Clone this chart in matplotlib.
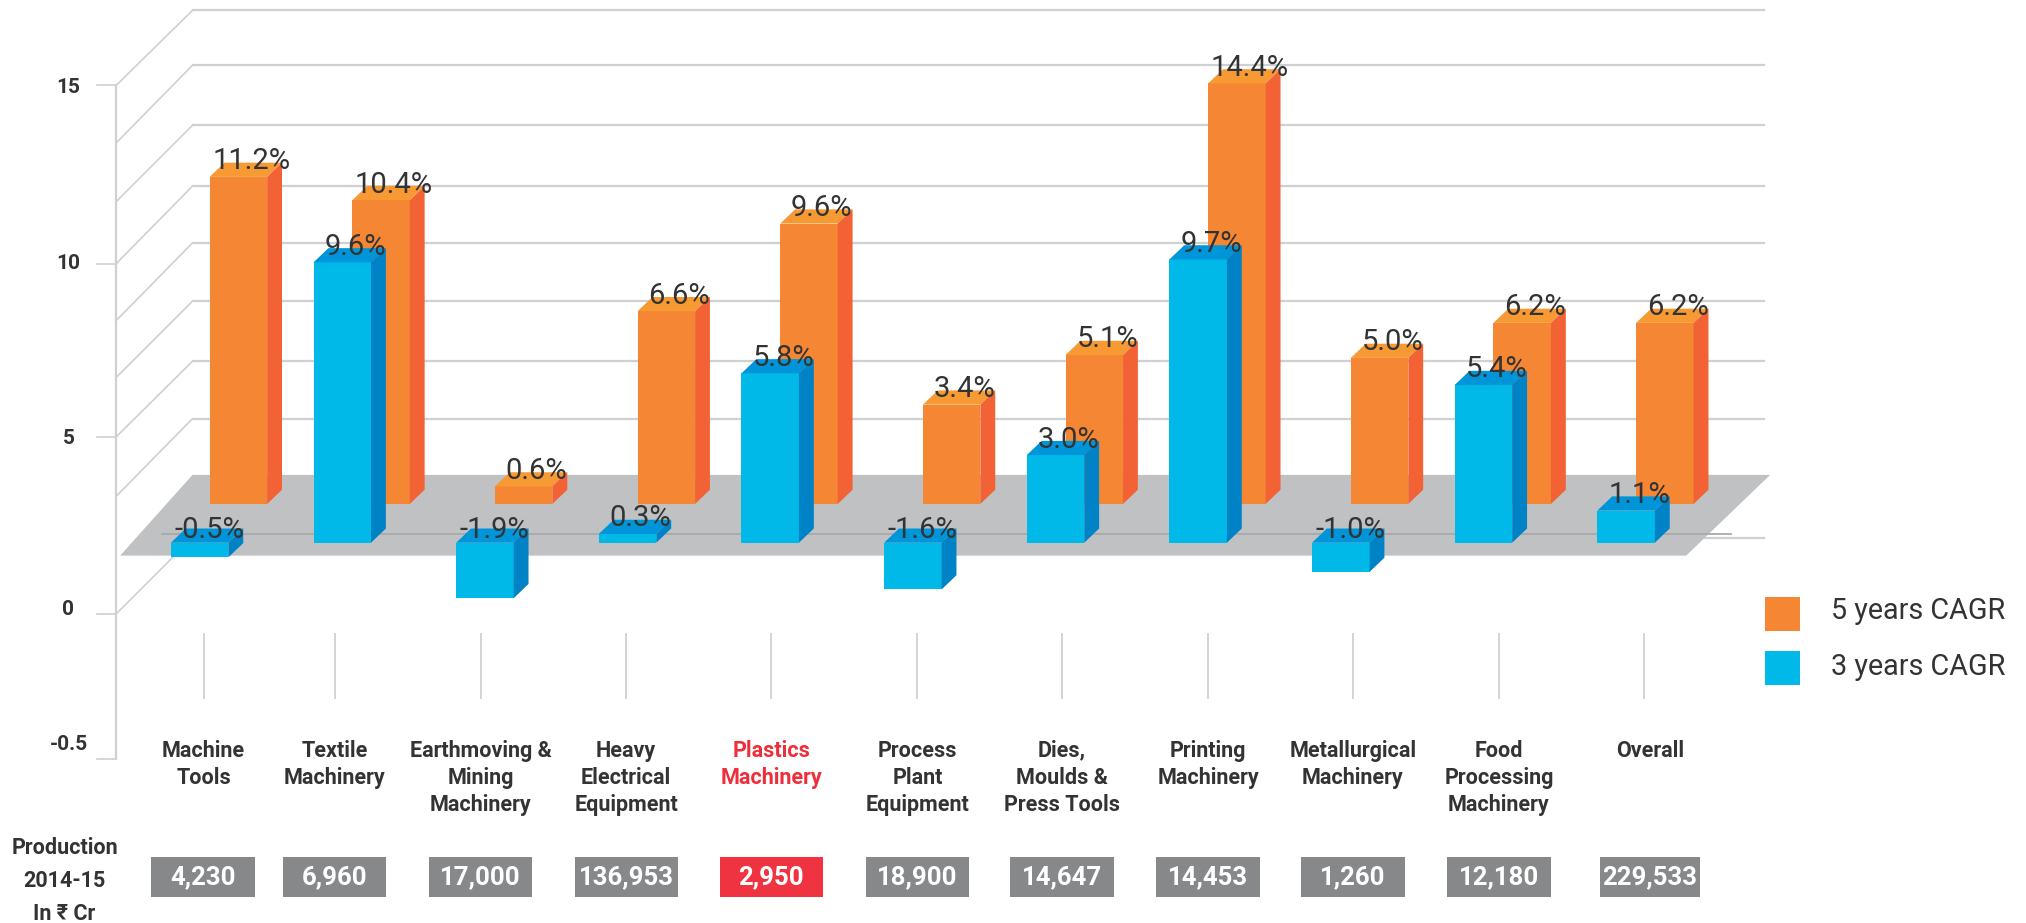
import matplotlib
matplotlib.use('Agg')
import matplotlib.pyplot as plt
from matplotlib.patches import Polygon, Rectangle

# Data
categories = ['Machine\nTools', 'Textile\nMachinery', 'Earthmoving &\nMining\nMachinery',
              'Heavy\nElectrical\nEquipment', 'Plastics\nMachinery', 'Process\nPlant\nEquipment',
              'Dies,\nMoulds &\nPress Tools', 'Printing\nMachinery', 'Metallurgical\nMachinery',
              'Food\nProcessing\nMachinery', 'Overall']
cagr_5y = [11.2, 10.4, 0.6, 6.6, 9.6, 3.4, 5.1, 14.4, 5.0, 6.2, 6.2]
cagr_3y = [-0.5, 9.6, -1.9, 0.3, 5.8, -1.6, 3.0, 9.7, -1.0, 5.4, 1.1]
production = ['4,230', '6,960', '17,000', '136,953', '2,950', '18,900',
              '14,647', '14,453', '1,260', '12,180', '229,533']
y_tick_labels = ['15', '10', '5', '0', '-0.5']
legend_labels = ['5 years CAGR', '3 years CAGR']
highlight = 'Plastics\nMachinery'

# Colours: front, top, side
ORANGE = ('#F58634', '#F89A34', '#F26235')
BLUE = ('#00B9E9', '#0095D9', '#0082C6')
FLOOR = '#C0C1C3'
GRID = '#CFD0D2'
TEXT = '#333333'
RED = '#EE2E3A'
BOX = '#87888A'

plt.rcParams['font.family'] = ['Roboto', 'DejaVu Sans']

# Layout, in reference units (the picture at 1568 wide)
W, H = 1568.0, 714.3
STEP = 110.4
FIRST = 169.5
UNIT = 22.6
BLUE_BASE = 420.0
ORANGE_LIFT = 30.0 / UNIT
BAR_W = 44.5 / STEP
BAR_OFF = 15.0 / STEP
DX, DY = 11.5 / STEP, 11.0 / UNIT

fig = plt.figure(figsize=(20.26, 9.23), dpi=100)

# background axes for the walls, floor and all outer text
bg = fig.add_axes([0, 0, 1, 1], zorder=1)
bg.set_xlim(0, W)
bg.set_ylim(H, 0)
bg.axis('off')

# bars live on their own value axes
ax = fig.add_axes([0, 0, 1, 1], zorder=2)
ax.patch.set_alpha(0)
ax.axis('off')
ax.set_xlim(-FIRST / STEP, (W - FIRST) / STEP)
ax.set_ylim((BLUE_BASE - H) / UNIT, BLUE_BASE / UNIT)

front_y = [66, 110.5, 156, 204, 248, 292, 338, 384, 475]
rear_y = [8, 50.5, 97, 144, 188, 233, 279.5, 324, 416]
for fy, ry in zip(front_y, rear_y):
    bg.plot([90, 149], [fy, ry], color=GRID, lw=1.2, zorder=1)
    bg.plot([149, 1365], [ry, ry], color=GRID, lw=1.6, zorder=1)
bg.plot([90, 90], [66, 587], color=GRID, lw=1.6, zorder=1)
for y in [66, 204, 338, 475, 587]:
    bg.plot([75, 90], [y, y], color=GRID, lw=1.2, zorder=1)

bg.add_patch(Polygon([(149, 367.5), (1370, 367.5), (1305, 430), (93, 430)],
                     facecolor=FLOOR, edgecolor='none', zorder=2))
bg.plot([125, 1340], [413, 413], color='#A8A9AB', lw=1.3, zorder=3)

for label, y in zip(y_tick_labels, [68, 204, 339, 472, 576]):
    bg.text(53, y, label, ha='center', va='center', fontsize=15, fontweight='bold', color=TEXT)


def draw_bar(x, value, base, colors):
    left, right = x - BAR_W / 2, x + BAR_W / 2
    top = base + max(value, 0)
    bottom = base + min(value, 0)
    ax.bar(x, top - bottom, BAR_W, bottom=bottom, color=colors[0], zorder=3)
    ax.add_patch(Polygon([(left, top), (right, top), (right + DX, top + DY), (left + DX, top + DY)],
                         facecolor=colors[1], edgecolor='none', zorder=3))
    ax.add_patch(Polygon([(right, bottom), (right + DX, bottom + DY), (right + DX, top + DY), (right, top)],
                         facecolor=colors[2], edgecolor='none', zorder=3))
    # negative labels sit a bit lower and further left
    offset = (6.8, 9.4) if value < 0 else (9.3, 11.2)
    ax.annotate(f'{value:.1f}%', (x, top), xytext=offset, textcoords='offset points',
                ha='center', va='center', fontsize=21, color=TEXT, zorder=5)


for i, v in enumerate(cagr_5y):
    draw_bar(i + BAR_OFF, v, ORANGE_LIFT, ORANGE)
for i, v in enumerate(cagr_3y):
    draw_bar(i - BAR_OFF, v, 0, BLUE)

# category ticks, labels and production boxes
tick_x = [157.5, 259, 372, 484.5, 597, 710, 822, 935, 1047, 1160, 1272]
box_x = [157, 259, 372, 485, 597, 710, 822, 935, 1047, 1160, 1277]
for i, cat in enumerate(categories):
    bg.plot([tick_x[i], tick_x[i]], [491, 540], color=GRID, lw=1.3, zorder=1)
    hot = cat == highlight
    for j, line in enumerate(cat.split('\n')):
        bg.text(tick_x[i] if cat != 'Overall' else box_x[i], 581 + 21 * j, line, ha='center', va='center',
                fontsize=15.5, fontweight='bold', color=RED if hot else TEXT)
    width = 78 if cat == 'Overall' else 80
    bg.add_patch(Rectangle((box_x[i] - width / 2, 663), width, 31,
                           facecolor='#EF3340' if hot else BOX, edgecolor='none', zorder=2))
    bg.text(box_x[i], 679, production[i], ha='center', va='center', fontsize=18.5,
            fontweight='bold', color='white', zorder=3)

for line, y in zip(['Production', '2014-15', 'In ₹ Cr'], [656, 682, 707]):
    bg.text(50, y, line, ha='center', va='center', fontsize=15.5, fontweight='bold', color=TEXT)

# legend
for label, color, y, ty in zip(legend_labels, [ORANGE[0], BLUE[0]], [462, 504], [473, 516]):
    bg.add_patch(Rectangle((1366, y), 27, 26.5, facecolor=color, edgecolor='none'))
    bg.text(1417, ty, label, ha='left', va='center', fontsize=20.7, color=TEXT)

fig.savefig('out.png', dpi=100)
